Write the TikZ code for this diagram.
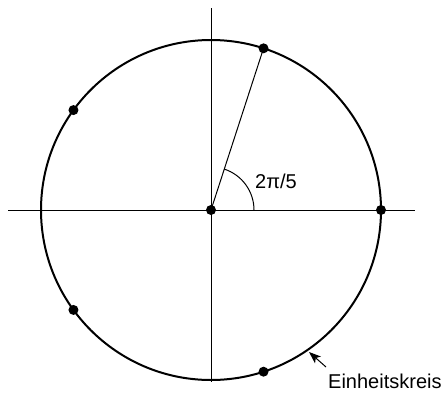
\documentclass[tikz,border=0pt]{standalone}
\usepackage{fontspec}
\setmainfont{Liberation Sans}
\usetikzlibrary{arrows.meta,calc}
\begin{document}
\begin{tikzpicture}[x=1pt,y=-1pt,
  dot/.style={circle,fill=black,inner sep=0pt,minimum size=10pt},
  axis/.style={line width=1pt},
  lbl/.style={inner sep=0pt,font=\fontsize{20}{24}\selectfont}]
\useasboundingbox (0,0) rectangle (442,410);
\coordinate (O) at (211,210);
\draw[axis] (8,210) -- (415,210);
\draw[axis] (211,8) -- (211,382);
\draw[line width=2pt] (O) circle[radius=170];
\foreach \a/\n in {0/0,-72/1,-144/2,-216/3,-288/4}{
  \node[dot] (P\n) at ($(O)+(\a:170)$) {};
}
\node[dot] (C) at (O) {};
\draw[line width=1pt] (C.center) -- (P1.center);
\draw[line width=1pt] ($(O)+(43,0)$) arc[start angle=0,end angle=-72,radius=43];
\node[lbl,anchor=base west] (ang) at (255,188) {2π/5};
\node[lbl,anchor=base west] (ek) at (328,388) {Einheitskreis};
\coordinate (A) at (326,367);
\coordinate (T) at (309,352);
\draw[line width=1pt,-{Stealth[length=12pt,width=9pt,inset=3pt]}] (A) -- (T);
\end{tikzpicture}
\end{document}
